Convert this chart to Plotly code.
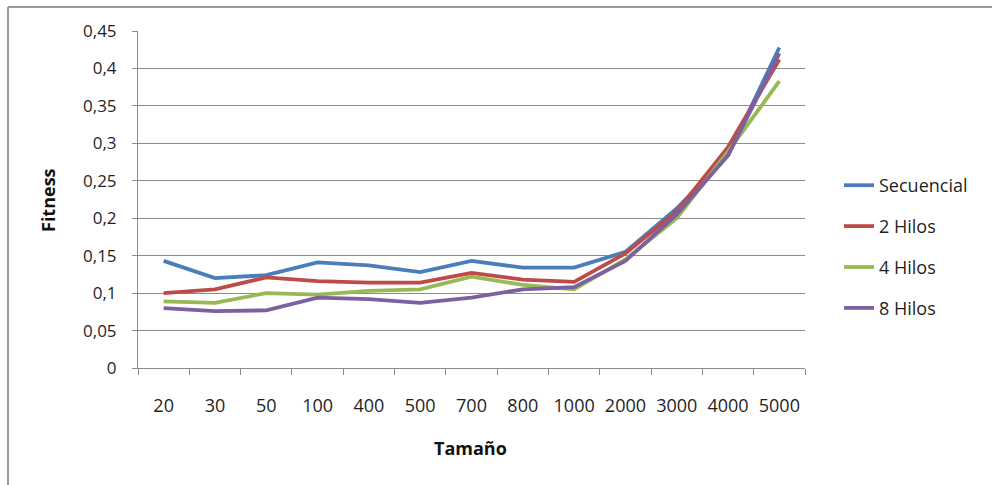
import plotly.graph_objects as go

# Problem sizes (categorical x axis)
sizes = ["20", "30", "50", "100", "400", "500", "700", "800", "1000",
         "2000", "3000", "4000", "5000"]

# Fitness per configuration
secuencial = [0.143, 0.120, 0.124, 0.141, 0.137, 0.128, 0.143, 0.134, 0.134,
              0.155, 0.213, 0.284, 0.428]
hilos_2 = [0.100, 0.105, 0.121, 0.116, 0.114, 0.114, 0.127, 0.118, 0.115,
           0.153, 0.209, 0.295, 0.412]
hilos_4 = [0.089, 0.087, 0.100, 0.098, 0.103, 0.105, 0.122, 0.111, 0.105,
           0.145, 0.200, 0.289, 0.383]
hilos_8 = [0.080, 0.076, 0.077, 0.094, 0.092, 0.087, 0.094, 0.105, 0.108,
           0.143, 0.205, 0.284, 0.420]

series_names = ["Secuencial", "2 Hilos", "4 Hilos", "8 Hilos"]
series_colors = ["#4A7EBB", "#BE4B48", "#98B954", "#7D60A0"]

y_ticks = [0, 0.05, 0.1, 0.15, 0.2, 0.25, 0.3, 0.35, 0.4, 0.45]
y_tick_text = ["0", "0,05", "0,1", "0,15", "0,2", "0,25", "0,3", "0,35", "0,4", "0,45"]

FONT = "Open Sans"
GRID = "#8C8C8C"
TEXT = "#1F1F1F"

fig = go.Figure()
for i, (name, vals, col) in enumerate(zip(series_names,
                                           [secuencial, hilos_2, hilos_4, hilos_8],
                                           series_colors)):
    fig.add_trace(go.Scatter(
        x=sizes, y=vals, name=name, mode="lines",
        line=dict(color=col, width=3.8),
        legendgroup=f"g{i}",
    ))

W, H = 992, 485
ML, MR, MT, MB = 138, 187, 31, 117
pw, ph = W - ML - MR, H - MT - MB


def px_x(x):
    return (x - ML) / pw


def px_y(y):
    return (H - MB - y) / ph


fig.update_layout(
    width=W, height=H,
    margin=dict(l=ML, r=MR, t=MT, b=MB, pad=0),
    paper_bgcolor="white", plot_bgcolor="white",
    font=dict(family=FONT, size=17, color=TEXT),
    showlegend=True,
    legend=dict(
        x=px_x(839), y=px_y(247), xanchor="left", yanchor="middle",
        font=dict(family=FONT, size=18, color=TEXT),
        tracegroupgap=14.5, bgcolor="rgba(0,0,0,0)",
    ),
    xaxis=dict(
        type="category", categoryorder="array", categoryarray=sizes,
        showgrid=False, showline=True, linecolor=GRID, linewidth=1,
        ticks="outside", ticklen=6, tickcolor=GRID, tickson="boundaries",
        ticklabelstandoff=21, zeroline=False,
        tickfont=dict(family=FONT, size=18, color=TEXT),
        range=[-0.5, len(sizes) - 0.5],
    ),
    yaxis=dict(
        range=[0, 0.45], tickvals=y_ticks, ticktext=y_tick_text,
        showgrid=True, gridcolor=GRID, gridwidth=1,
        showline=True, linecolor=GRID, linewidth=1,
        ticks="outside", ticklen=5, tickcolor=GRID,
        ticklabelstandoff=12, zeroline=False,
        tickfont=dict(family=FONT, size=17, color=TEXT),
    ),
    annotations=[
        dict(text="<b>Fitness</b>", x=px_x(48), y=px_y(200), xref="paper", yref="paper",
             textangle=-90, showarrow=False, font=dict(family=FONT, size=18, color="#111111"),
             xanchor="center", yanchor="middle"),
        dict(text="<b>Tamaño</b>", x=px_x(470), y=px_y(448), xref="paper", yref="paper",
             showarrow=False, font=dict(family=FONT, size=18, color="#111111"),
             xanchor="center", yanchor="middle"),
    ],
    shapes=[
        dict(type="line", xref="paper", yref="paper",
             x0=px_x(8), x1=px_x(W + 5), y0=px_y(7), y1=px_y(7),
             line=dict(color="#9A9A9A", width=2)),
        dict(type="line", xref="paper", yref="paper",
             x0=px_x(8), x1=px_x(8), y0=px_y(7), y1=px_y(H + 5),
             line=dict(color="#9A9A9A", width=2)),
    ],
)

fig.write_html("out.html")
